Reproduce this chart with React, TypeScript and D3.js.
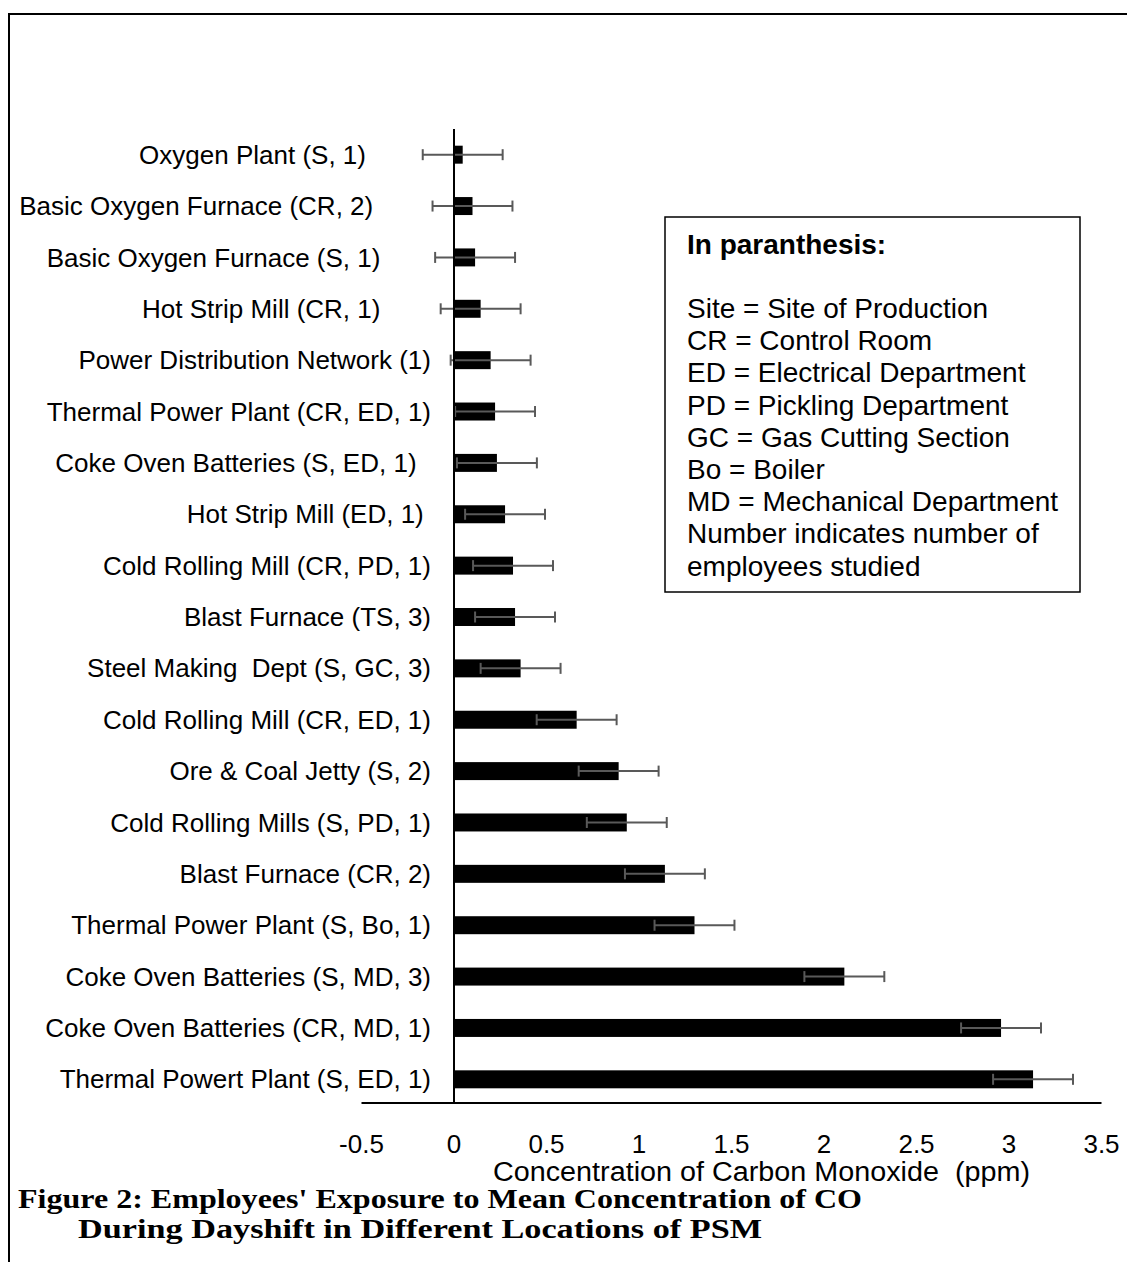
import React from "react";
import * as d3 from "d3";

const categories = [
  "Oxygen Plant (S, 1)         ",
  "Basic Oxygen Furnace (CR, 2)        ",
  "Basic Oxygen Furnace (S, 1)       ",
  "Hot Strip Mill (CR, 1)       ",
  "Power Distribution Network (1)",
  "Thermal Power Plant (CR, ED, 1)",
  "Coke Oven Batteries (S, ED, 1)  ",
  "Hot Strip Mill (ED, 1) ",
  "Cold Rolling Mill (CR, PD, 1)",
  "Blast Furnace (TS, 3)",
  "Steel Making  Dept (S, GC, 3)",
  "Cold Rolling Mill (CR, ED, 1)",
  "Ore & Coal Jetty (S, 2)",
  "Cold Rolling Mills (S, PD, 1)",
  "Blast Furnace (CR, 2)",
  "Thermal Power Plant (S, Bo, 1)",
  "Coke Oven Batteries (S, MD, 3)",
  "Coke Oven Batteries (CR, MD, 1)",
  "Thermal Powert Plant (S, ED, 1)",
];

const means = [
  0.047, 0.1, 0.114, 0.144, 0.198, 0.222, 0.232, 0.276, 0.319, 0.33, 0.36,
  0.663, 0.89, 0.934, 1.14, 1.3, 2.11, 2.957, 3.13,
];

const errors = [
  0.216, 0.216, 0.216, 0.216, 0.216, 0.216, 0.216, 0.216, 0.216, 0.216, 0.216,
  0.216, 0.216, 0.216, 0.216, 0.216, 0.216, 0.216, 0.216,
];

const xTicks = [-0.5, 0, 0.5, 1, 1.5, 2, 2.5, 3, 3.5];

const legendTitle = "In paranthesis:";
const legendLines = [
  "Site = Site of Production",
  "CR = Control Room",
  "ED = Electrical Department",
  "PD = Pickling Department",
  "GC = Gas Cutting Section",
  "Bo = Boiler",
  "MD = Mechanical Department",
  "Number indicates number of",
  "employees studied",
];

const xTitle = "Concentration of Carbon Monoxide  (ppm)";
const figTitle1 = "Figure 2: Employees' Exposure to Mean Concentration of CO";
const figTitle2 = "During Dayshift in Different Locations of PSM";

export default function App() {
  const W = 1127;
  const H = 1262;
  const x = d3.scaleLinear().domain([-0.5, 3.5]).range([361.5, 1101.5]);
  const idx = categories.map((_, i) => i);
  const y = d3
    .scaleBand<number>()
    .domain(idx)
    .range([129, 1105])
    .paddingInner(0.65)
    .paddingOuter(0.325);
  const bw = y.bandwidth();
  const axisY = 1103;
  const sans = "Arial, 'Liberation Sans', Helvetica, sans-serif";
  const serif = "'Times New Roman', 'Liberation Serif', serif";
  const errColor = "#595959";

  return (
    <div style={{ position: "absolute", left: 0, top: 0 }}>
      <svg width={W} height={H} style={{ display: "block", background: "#fff" }}>
        {/* outer frame */}
        <rect x={9} y={14} width={1300} height={1400} fill="none" stroke="#000" strokeWidth={2} />

        {/* bars */}
        {means.map((m, i) => (
          <rect
            key={"b" + i}
            x={x(0)}
            y={y(i)!}
            width={x(m) - x(0)}
            height={bw}
            fill="#000"
          />
        ))}

        {/* error bars */}
        {means.map((m, i) => {
          const cy = y(i)! + bw / 2;
          const x1 = x(m - errors[i]);
          const x2 = x(m + errors[i]);
          return (
            <g key={"e" + i} stroke={errColor} strokeWidth={2}>
              <line x1={x1} x2={x2} y1={cy} y2={cy} />
              <line x1={x1} x2={x1} y1={cy - 5.5} y2={cy + 5.5} />
              <line x1={x2} x2={x2} y1={cy - 5.5} y2={cy + 5.5} />
            </g>
          );
        })}

        {/* axes */}
        <line x1={x(0)} x2={x(0)} y1={129} y2={axisY} stroke="#000" strokeWidth={2} />
        <line x1={x(-0.5)} x2={x(3.5)} y1={axisY} y2={axisY} stroke="#000" strokeWidth={2} />

        {/* category labels */}
        {categories.map((c, i) => (
          <text
            key={"c" + i}
            x={431}
            y={y(i)! + bw / 2}
            dy="0.35em"
            textAnchor="end"
            fontFamily={sans}
            fontSize={26}
            fill="#000"
            style={{ whiteSpace: "pre" }}
          >
            {c}
          </text>
        ))}

        {/* tick labels */}
        {xTicks.map((t) => (
          <text
            key={"t" + t}
            x={x(t)}
            y={1153}
            textAnchor="middle"
            fontFamily={sans}
            fontSize={26}
            fill="#000"
          >
            {String(t)}
          </text>
        ))}

        <text
          x={493}
          y={1181}
          fontFamily={sans}
          fontSize={27}
          fill="#000"
          textLength={537}
          lengthAdjust="spacingAndGlyphs"
          style={{ whiteSpace: "pre" }}
        >
          {xTitle}
        </text>

        {/* legend */}
        <rect x={665} y={217} width={415} height={375} fill="#fff" stroke="#000" strokeWidth={1.5} />
        <text x={687} y={254} fontFamily={sans} fontSize={28} fontWeight="bold" fill="#000">
          {legendTitle}
        </text>
        {legendLines.map((l, i) => (
          <text
            key={"l" + i}
            x={687}
            y={318 + i * 32.2}
            fontFamily={sans}
            fontSize={28}
            fill="#000"
          >
            {l}
          </text>
        ))}

        {/* figure caption */}
        <text x={18} y={1208} fontFamily={serif} fontWeight="bold" fontSize={27} fill="#000" textLength={844} lengthAdjust="spacingAndGlyphs">
          {figTitle1}
        </text>
        <text x={78} y={1238} fontFamily={serif} fontWeight="bold" fontSize={27} fill="#000" textLength={684} lengthAdjust="spacingAndGlyphs">
          {figTitle2}
        </text>
      </svg>
    </div>
  );
}
